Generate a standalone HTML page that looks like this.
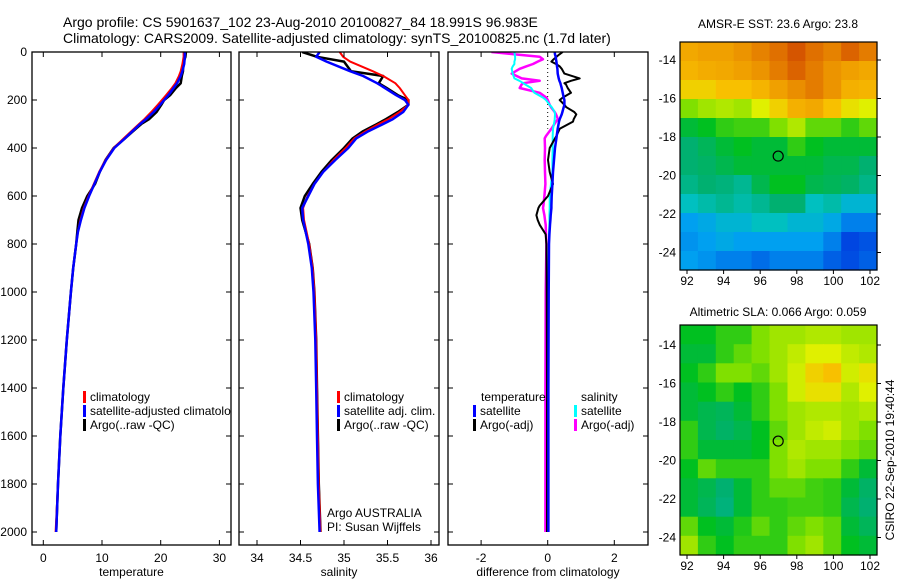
<!DOCTYPE html>
<html><head><meta charset="utf-8"><style>
body{margin:0;background:#fff}
svg{display:block;font-family:"Liberation Sans",sans-serif}
text{fill:#000}
</style></head><body>
<svg id="c" width="900" height="580" viewBox="0 0 900 580" xmlns="http://www.w3.org/2000/svg">
<rect width="900" height="580" fill="#fff"/>
<text x="63" y="27" font-size="14">Argo profile: CS 5901637_102 23-Aug-2010 20100827_84 18.991S 96.983E</text>
<text x="63" y="43" font-size="14">Climatology: CARS2009. Satellite-adjusted climatology: synTS_20100825.nc (1.7d later)</text>
<text x="778" y="28" font-size="12" text-anchor="middle">AMSR-E SST: 23.6 Argo: 23.8</text>
<text x="778" y="316" font-size="12" text-anchor="middle">Altimetric SLA: 0.066 Argo: 0.059</text>
<text transform="translate(894,460) rotate(-90)" font-size="12" text-anchor="middle">CSIRO 22-Sep-2010 19:40:44</text>
<g id="g"></g>
</svg>
<script>
// ---- profile data ----
const depthT = [0,20,50,80,100,130,150,180,200,220,250,280,300,330,360,400,450,500,550,600,650,700,750,800,900,1000,1200,1400,1600,1800,2000];
const tempClim = [23.9,23.9,23.7,23.4,23.1,22.5,21.9,20.9,20.2,19.5,18.4,17.2,16.3,15.0,13.7,12.0,10.6,9.5,8.6,7.7,6.9,6.3,5.9,5.6,5.1,4.7,4.0,3.4,2.9,2.5,2.1];
const tempSat  = [24.1,24.1,24.0,23.7,23.4,22.8,22.2,21.3,20.6,19.9,18.8,17.5,16.5,15.2,13.9,12.1,10.7,9.6,8.7,7.8,7.0,6.4,5.9,5.6,5.1,4.7,4.0,3.4,2.9,2.5,2.2];
const tempArgo = [24.3,24.2,23.8,23.8,23.6,23.4,22.6,21.6,20.6,20.1,19.3,18.0,16.7,15.3,13.9,12.0,10.6,9.6,8.8,7.5,6.6,6.0,5.8,5.6,5.1,4.7,4.0,3.4,2.9,2.5,2.2];
const depthS = [0,20,40,80,100,130,150,180,200,220,250,280,300,330,360,400,450,500,550,600,650,700,800,900,1000,1200,1400,1600,1800,2000];
const salClim = [34.95,34.99,35.07,35.33,35.45,35.59,35.64,35.70,35.74,35.74,35.64,35.51,35.40,35.25,35.12,35.02,34.88,34.76,34.66,34.58,34.53,34.54,34.60,34.64,34.66,34.68,34.69,34.70,34.71,34.73];
const salSat  = [34.72,34.68,34.80,35.07,35.22,35.38,35.47,35.60,35.70,35.74,35.68,35.56,35.45,35.28,35.14,35.05,34.90,34.76,34.66,34.59,34.52,34.53,34.59,34.63,34.65,34.67,34.68,34.69,34.70,34.72];
const salArgo = [34.52,34.69,35.00,35.08,35.45,35.40,35.49,35.62,35.74,35.74,35.62,35.48,35.38,35.22,35.10,35.00,34.86,34.74,34.64,34.55,34.50,34.52,34.60,34.64,34.66,34.68,34.69,34.70,34.71,34.73];
const depthD = [0,10,20,30,40,50,60,70,90,110,120,130,135,150,170,190,200,220,230,250,260,280,290,320,350,360,400,450,500,550,600,640,650,680,700,720,760,800,1000,1400,2000];
const dTempSat  = [0.21,0.22,0.24,0.25,0.26,0.27,0.28,0.29,0.30,0.33,0.35,0.38,0.39,0.42,0.45,0.48,0.50,0.50,0.48,0.44,0.42,0.36,0.34,0.30,0.27,0.26,0.22,0.19,0.16,0.14,0.12,0.11,0.11,0.09,0.08,0.07,0.05,0.04,0.03,0.02,0.02];
const dTempArgo = [0.45,0.35,0.26,0.18,0.11,0.25,0.36,0.42,0.50,0.96,0.70,0.50,0.55,0.60,0.70,0.45,0.36,0.50,0.56,0.80,0.86,0.78,0.76,0.36,0.26,0.22,0.06,0.01,0.06,0.16,0.01,-0.24,-0.28,-0.34,-0.30,-0.24,-0.06,-0.04,-0.03,-0.02,-0.02];
const dSalSat   = [-1.00,-0.99,-0.98,-0.98,-1.00,-1.00,-1.05,-1.08,-1.05,-1.00,-0.85,-0.73,-0.68,-0.50,-0.40,-0.14,-0.05,0.06,0.12,0.21,0.22,0.21,0.20,0.16,0.15,0.15,0.15,0.14,0.14,0.10,0.06,0.06,0.06,0.05,0.05,0.05,0.04,0.04,0.02,0.01,0.00];
const dSalArgo  = [-1.69,-0.98,-0.24,-0.14,-0.30,-0.44,-0.65,-0.84,-1.08,-0.78,-0.24,-0.74,-0.78,-0.84,-0.24,-0.04,0.00,0.06,0.10,0.21,0.25,0.31,0.25,0.11,-0.05,-0.09,-0.08,-0.09,-0.08,-0.07,-0.10,-0.13,-0.14,-0.10,-0.08,-0.06,-0.05,-0.04,-0.06,-0.07,-0.07];
// ---- map data (rows north->south, cols west->east), colour index 0..1 ----
const sstGrid = [
[0.78,0.80,0.80,0.82,0.85,0.88,0.92,0.88,0.85,0.90,0.86],
[0.75,0.77,0.78,0.80,0.82,0.86,0.90,0.86,0.82,0.80,0.78],
[0.70,0.70,0.72,0.72,0.75,0.80,0.83,0.86,0.82,0.76,0.75],
[0.60,0.62,0.63,0.62,0.66,0.70,0.76,0.78,0.72,0.68,0.66],
[0.50,0.52,0.55,0.56,0.56,0.60,0.63,0.58,0.58,0.55,0.58],
[0.45,0.47,0.50,0.52,0.50,0.50,0.55,0.52,0.50,0.50,0.50],
[0.45,0.46,0.48,0.50,0.50,0.50,0.50,0.50,0.48,0.48,0.45],
[0.43,0.45,0.44,0.42,0.48,0.52,0.52,0.48,0.47,0.46,0.43],
[0.38,0.40,0.42,0.40,0.42,0.45,0.45,0.38,0.40,0.35,0.35],
[0.30,0.32,0.35,0.35,0.38,0.38,0.35,0.35,0.32,0.25,0.25],
[0.28,0.30,0.32,0.30,0.30,0.30,0.30,0.30,0.25,0.16,0.18],
[0.30,0.28,0.25,0.25,0.22,0.25,0.25,0.25,0.20,0.17,0.20]];
const slaGrid = [
[0.52,0.52,0.55,0.55,0.60,0.62,0.62,0.63,0.63,0.62,0.62],
[0.50,0.50,0.55,0.58,0.60,0.62,0.64,0.66,0.66,0.64,0.63],
[0.52,0.55,0.60,0.60,0.58,0.62,0.65,0.70,0.72,0.65,0.68],
[0.50,0.52,0.55,0.52,0.55,0.60,0.65,0.68,0.68,0.63,0.66],
[0.50,0.48,0.47,0.50,0.55,0.60,0.62,0.63,0.63,0.62,0.63],
[0.55,0.48,0.46,0.48,0.52,0.58,0.62,0.64,0.65,0.62,0.60],
[0.55,0.50,0.50,0.50,0.52,0.60,0.63,0.62,0.62,0.60,0.58],
[0.52,0.58,0.55,0.55,0.55,0.60,0.62,0.60,0.60,0.55,0.50],
[0.50,0.48,0.45,0.50,0.55,0.58,0.58,0.56,0.55,0.50,0.46],
[0.50,0.47,0.44,0.50,0.55,0.55,0.56,0.56,0.55,0.48,0.45],
[0.58,0.52,0.50,0.54,0.58,0.55,0.58,0.60,0.58,0.50,0.47],
[0.62,0.55,0.52,0.55,0.55,0.55,0.60,0.62,0.58,0.52,0.50]];
const depthTicks = [0,200,400,600,800,1000,1200,1400,1600,1800,2000];
const tempTicks = [0,10,20,30];
const salTicks = [34,34.5,35,35.5,36];
const diffTicks = [-2,0,2];
const latTicks = [-14,-16,-18,-20,-22,-24];
const lonTicks = [92,94,96,98,100,102];
const argoLon = 96.983, argoLat = -18.991;

const NS='http://www.w3.org/2000/svg';
const G=document.getElementById('g');
function mk(tag,attrs,parent){const e=document.createElementNS(NS,tag);for(const k in attrs)e.setAttribute(k,attrs[k]);(parent||G).appendChild(e);return e;}
const TOP=52, BOT=545;
const yD = p => TOP + 0.24*p;
const panels = [
 {x0:32,x1:231,sx:v=>43.3+5.87*v,ticks:tempTicks,label:'temperature',name:'temperature-panel'},
 {x0:239,x1:439,sx:v=>257+87*(v-34),ticks:salTicks,label:'salinity',name:'salinity-panel'},
 {x0:448,x1:648,sx:v=>547.7+33.3*v,ticks:diffTicks,label:'difference from climatology',name:'difference-panel'}];

panels.forEach((P,i)=>{
  const g=mk('g',{});
  
  
  P.g=g;
  const cp=mk('clipPath',{id:'cp'+i},g);
  mk('rect',{x:P.x0,y:TOP,width:P.x1-P.x0,height:BOT-TOP},cp);
  P.clip=mk('g',{'clip-path':'url(#cp'+i+')'},g);
  const fr=mk('rect',{x:P.x0,y:TOP,width:P.x1-P.x0,height:BOT-TOP,fill:'none',stroke:'#000','stroke-width':1.3},g);
  
  
  depthTicks.forEach(d=>{
    const y=yD(d);
    mk('line',{x1:P.x0,x2:P.x0+5,y1:y,y2:y,stroke:'#000'},g);
    mk('line',{x1:P.x1,x2:P.x1-5,y1:y,y2:y,stroke:'#000'},g);
    if(i===0){const t=mk('text',{x:P.x0-5,y:y+4,'font-size':12,'text-anchor':'end'},g);t.textContent=d;
      
      }
  });
  P.ticks.forEach(v=>{
    const x=P.sx(v);
    mk('line',{x1:x,x2:x,y1:BOT,y2:BOT-5,stroke:'#000'},g);
    mk('line',{x1:x,x2:x,y1:TOP,y2:TOP+5,stroke:'#000'},g);
    const t=mk('text',{x:x,y:562,'font-size':12,'text-anchor':'middle'},g);t.textContent=v;
    
    
  });
  const at=mk('text',{x:(P.x0+P.x1)/2,y:576,'font-size':12,'text-anchor':'middle'},g);at.textContent=P.label;
  
  
});
function line(P,depths,vals,color,name,w){
  const pts=vals.map((v,k)=>P.sx(v).toFixed(1)+','+yD(depths[k]).toFixed(1)).join(' ');
  const l=mk('polyline',{points:pts,fill:'none',stroke:color,'stroke-width':w||2,'stroke-linejoin':'round'},P.clip);
  
  
}
const [P1,P2,P3]=panels;
line(P1,depthT,tempArgo,'#000','temp-argo-line',2.5);
line(P1,depthT,tempClim,'#f00','temp-climatology-line');
line(P1,depthT,tempSat,'#00f','temp-satellite-line',2.5);
line(P2,depthS,salArgo,'#000','sal-argo-line',2.5);
line(P2,depthS,salClim,'#f00','sal-climatology-line');
line(P2,depthS,salSat,'#00f','sal-satellite-line',2.5);
mk('line',{x1:P3.sx(0),x2:P3.sx(0),y1:TOP,y2:yD(320),stroke:'#000','stroke-dasharray':'1,3'},P3.clip);
line(P3,depthD,dSalArgo,'#f0f','diff-sal-argo-line',2.5);
line(P3,depthD,dSalSat,'#0ff','diff-sal-satellite-line',2);
line(P3,depthD,dTempArgo,'#000','diff-temp-argo-line',2);
line(P3,depthD,dTempSat,'#00f','diff-temp-satellite-line',2.5);

function legend(g,x,y,color,label){
  const r=mk('rect',{x:x,y:y-10,width:3,height:12,fill:color},g);
  
  
  if(label){const t=mk('text',{x:x+7,y:y,'font-size':12},g);t.textContent=label;
    
    }
}
function txt(g,x,y,s,name){const t=mk('text',{x:x,y:y,'font-size':12},g);t.textContent=s;
  
  }
const lg1=mk('g',{'clip-path':'url(#cp0)'},P1.g);
legend(lg1,83,401,'#f00','climatology');legend(lg1,83,415,'#00f','satellite-adjusted climatology');legend(lg1,83,429,'#000','Argo(..raw -QC)');
legend(P2.g,337,401,'#f00','climatology');legend(P2.g,337,415,'#00f','satellite adj. clim.');legend(P2.g,337,429,'#000','Argo(..raw -QC)');
txt(P2.g,327,517,'Argo AUSTRALIA','argo-program-label');txt(P2.g,327,531,'PI: Susan Wijffels','pi-label');
txt(P3.g,481,401,'temperature','legend-temperature-heading');txt(P3.g,581,401,'salinity','legend-salinity-heading');
legend(P3.g,473,415,'#00f','satellite');legend(P3.g,473,429,'#000','Argo(-adj)');
legend(P3.g,574,415,'#0ff','satellite');legend(P3.g,574,429,'#f0f','Argo(-adj)');

// ---- maps ----
const stops=[[0,[0,0,128]],[0.15,[0,64,224]],[0.3,[0,160,240]],[0.38,[0,192,192]],[0.45,[0,176,112]],[0.52,[0,192,32]],[0.6,[128,224,0]],[0.66,[224,240,0]],[0.72,[248,192,0]],[0.8,[240,160,0]],[0.88,[224,112,0]],[1,[192,32,0]]];
function cmap(v){for(let i=1;i<stops.length;i++){if(v<=stops[i][0]){const a=stops[i-1],b=stops[i],t=(v-a[0])/(b[0]-a[0]);return 'rgb('+a[1].map((c,k)=>Math.round(c+(b[1][k]-c)*t)).join(',')+')';}}return 'rgb(192,32,0)';}
function drawMap(grid,y0,y1,latRef,name){
  const x0=680,x1=877;
  const g=mk('g',{});
  
  
  const lonS=v=>687+18.3*(v-92);
  const latS=v=>latRef+19.25*(-14-v);
  const lonMin=92-(687-x0)/18.3, lonMax=92+(x1-687)/18.3;
  const latMax=-14+(latRef-y0)/19.25, latMin=-14-(y1-latRef)/19.25;
  const nr=grid.length,nc=grid[0].length;
  const dLon=(lonMax-lonMin)/nc,dLat=(latMax-latMin)/nr;
  grid.forEach((row,r)=>row.forEach((v,c)=>{
    const xa=lonS(lonMin+c*dLon),xb=lonS(lonMin+(c+1)*dLon),ya=latS(latMax-r*dLat),yb=latS(latMax-(r+1)*dLat);
    const cell=mk('rect',{x:xa.toFixed(1),y:ya.toFixed(1),width:(xb-xa+0.6).toFixed(1),height:(yb-ya+0.6).toFixed(1),fill:cmap(v)},g);
    
    
  }));
  mk('rect',{x:x0,y:y0,width:x1-x0,height:y1-y0,fill:'none',stroke:'#000','stroke-width':1.2},g);
  latTicks.forEach(v=>{const y=latS(v);mk('line',{x1:x1,x2:x1+4,y1:y,y2:y,stroke:'#000'},g);
    const t=mk('text',{x:x0-4,y:y+4,'font-size':12,'text-anchor':'end'},g);t.textContent=v;
    
    });
  lonTicks.forEach(v=>{const x=lonS(v);mk('line',{x1:x,x2:x,y1:y1,y2:y1+4,stroke:'#000'},g);
    const t=mk('text',{x:x,y:y1+15,'font-size':12,'text-anchor':'middle'},g);t.textContent=v;
    
    });
  const m=mk('circle',{cx:lonS(argoLon),cy:latS(argoLat),r:5,fill:'none',stroke:'#000','stroke-width':1.2},g);
  
  
}
drawMap(sstGrid,42,270,60,'sst-map');
drawMap(slaGrid,325,555,345,'sla-map');
</script>
</body></html>
